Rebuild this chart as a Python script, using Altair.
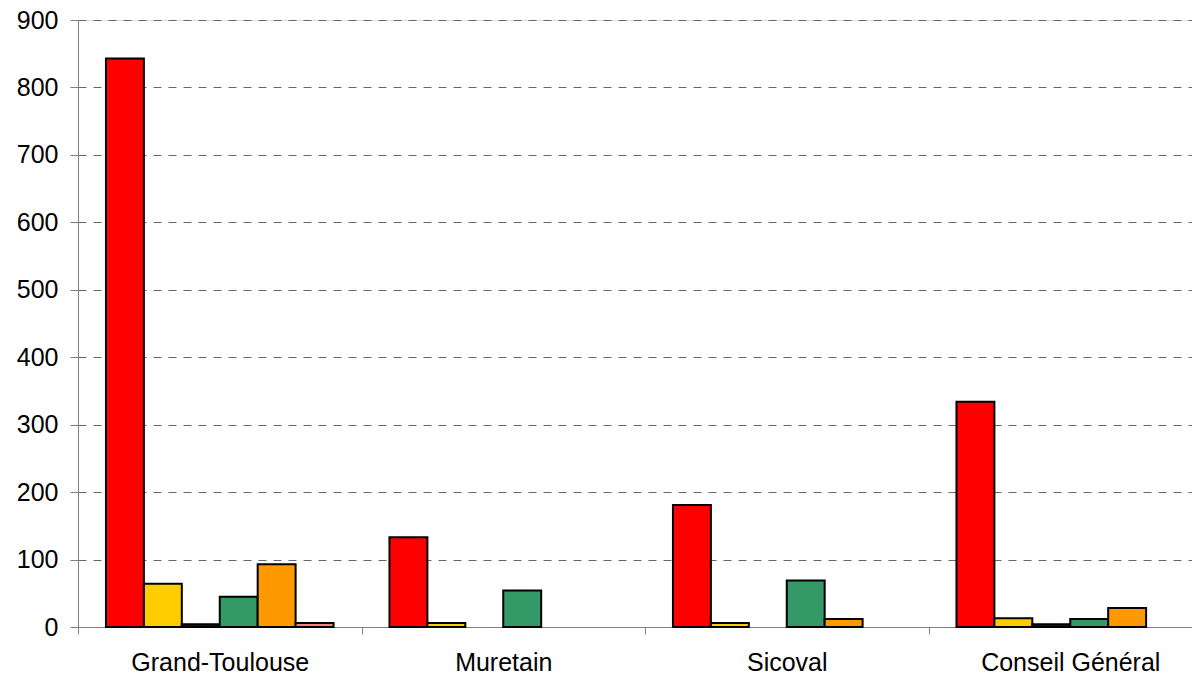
import altair as alt
import pandas as pd

# Groups along the x axis
categories = ["Grand-Toulouse", "Muretain", "Sicoval", "Conseil Général"]

# One value per group for each series (None = no bar)
series_names = ["s1", "s2", "s3", "s4", "s5", "s6"]
series_colors = ["#FF0000", "#FFCC00", "#1A1A1A", "#339966", "#FF9900", "#FF8080"]

s1 = [843, 133, 181, 334]
s2 = [64, 6, 6, 13]
s3 = [4, None, None, 4]
s4 = [45, 54, 69, 12]
s5 = [93, None, 12, 28]
s6 = [6, None, None, None]

y_ticks = [0, 100, 200, 300, 400, 500, 600, 700, 800, 900]

rows = []
for name, values in zip(series_names, [s1, s2, s3, s4, s5, s6]):
    for cat, v in zip(categories, values):
        if v is not None:
            rows.append({"groupe": cat, "serie": name, "valeur": v})
df = pd.DataFrame(rows)

font = "Liberation Sans"

chart = alt.Chart(df).mark_bar(stroke="black", strokeWidth=2).encode(
    x=alt.X(
        "groupe:N",
        sort=categories,
        scale=alt.Scale(range=[0, 1134], paddingInner=0, paddingOuter=0),
        axis=alt.Axis(
            title=None, labelAngle=0, tickBand="extent", tickSize=7,
            labelPadding=16, labelFontSize=25, labelFont=font, labelColor="black",
            domainColor="#808080", tickColor="#808080", grid=False,
        ),
    ),
    xOffset=alt.XOffset(
        "serie:N",
        scale=alt.Scale(domain=series_names, paddingInner=0, paddingOuter=0.737),
    ),
    y=alt.Y(
        "valeur:Q",
        scale=alt.Scale(domain=[0, 900], nice=False),
        axis=alt.Axis(
            title=None, values=y_ticks, tickSize=8, labelPadding=12,
            labelFontSize=25, labelFont=font, labelColor="black",
            domainColor="#808080", tickColor="#808080",
            grid=True, gridDash=[8, 7], gridColor="#666666", gridWidth=1,
        ),
    ),
    color=alt.Color(
        "serie:N",
        scale=alt.Scale(domain=series_names, range=series_colors),
        legend=None,
    ),
).properties(
    width=1114,
    height=607,
    autosize=alt.AutoSizeParams(type="none"),
    padding={"left": 78, "top": 20, "right": 0, "bottom": 50},
).configure_view(stroke=None).configure(background="white")

chart.save("out.html", embed_options={"renderer": "svg", "actions": False})
